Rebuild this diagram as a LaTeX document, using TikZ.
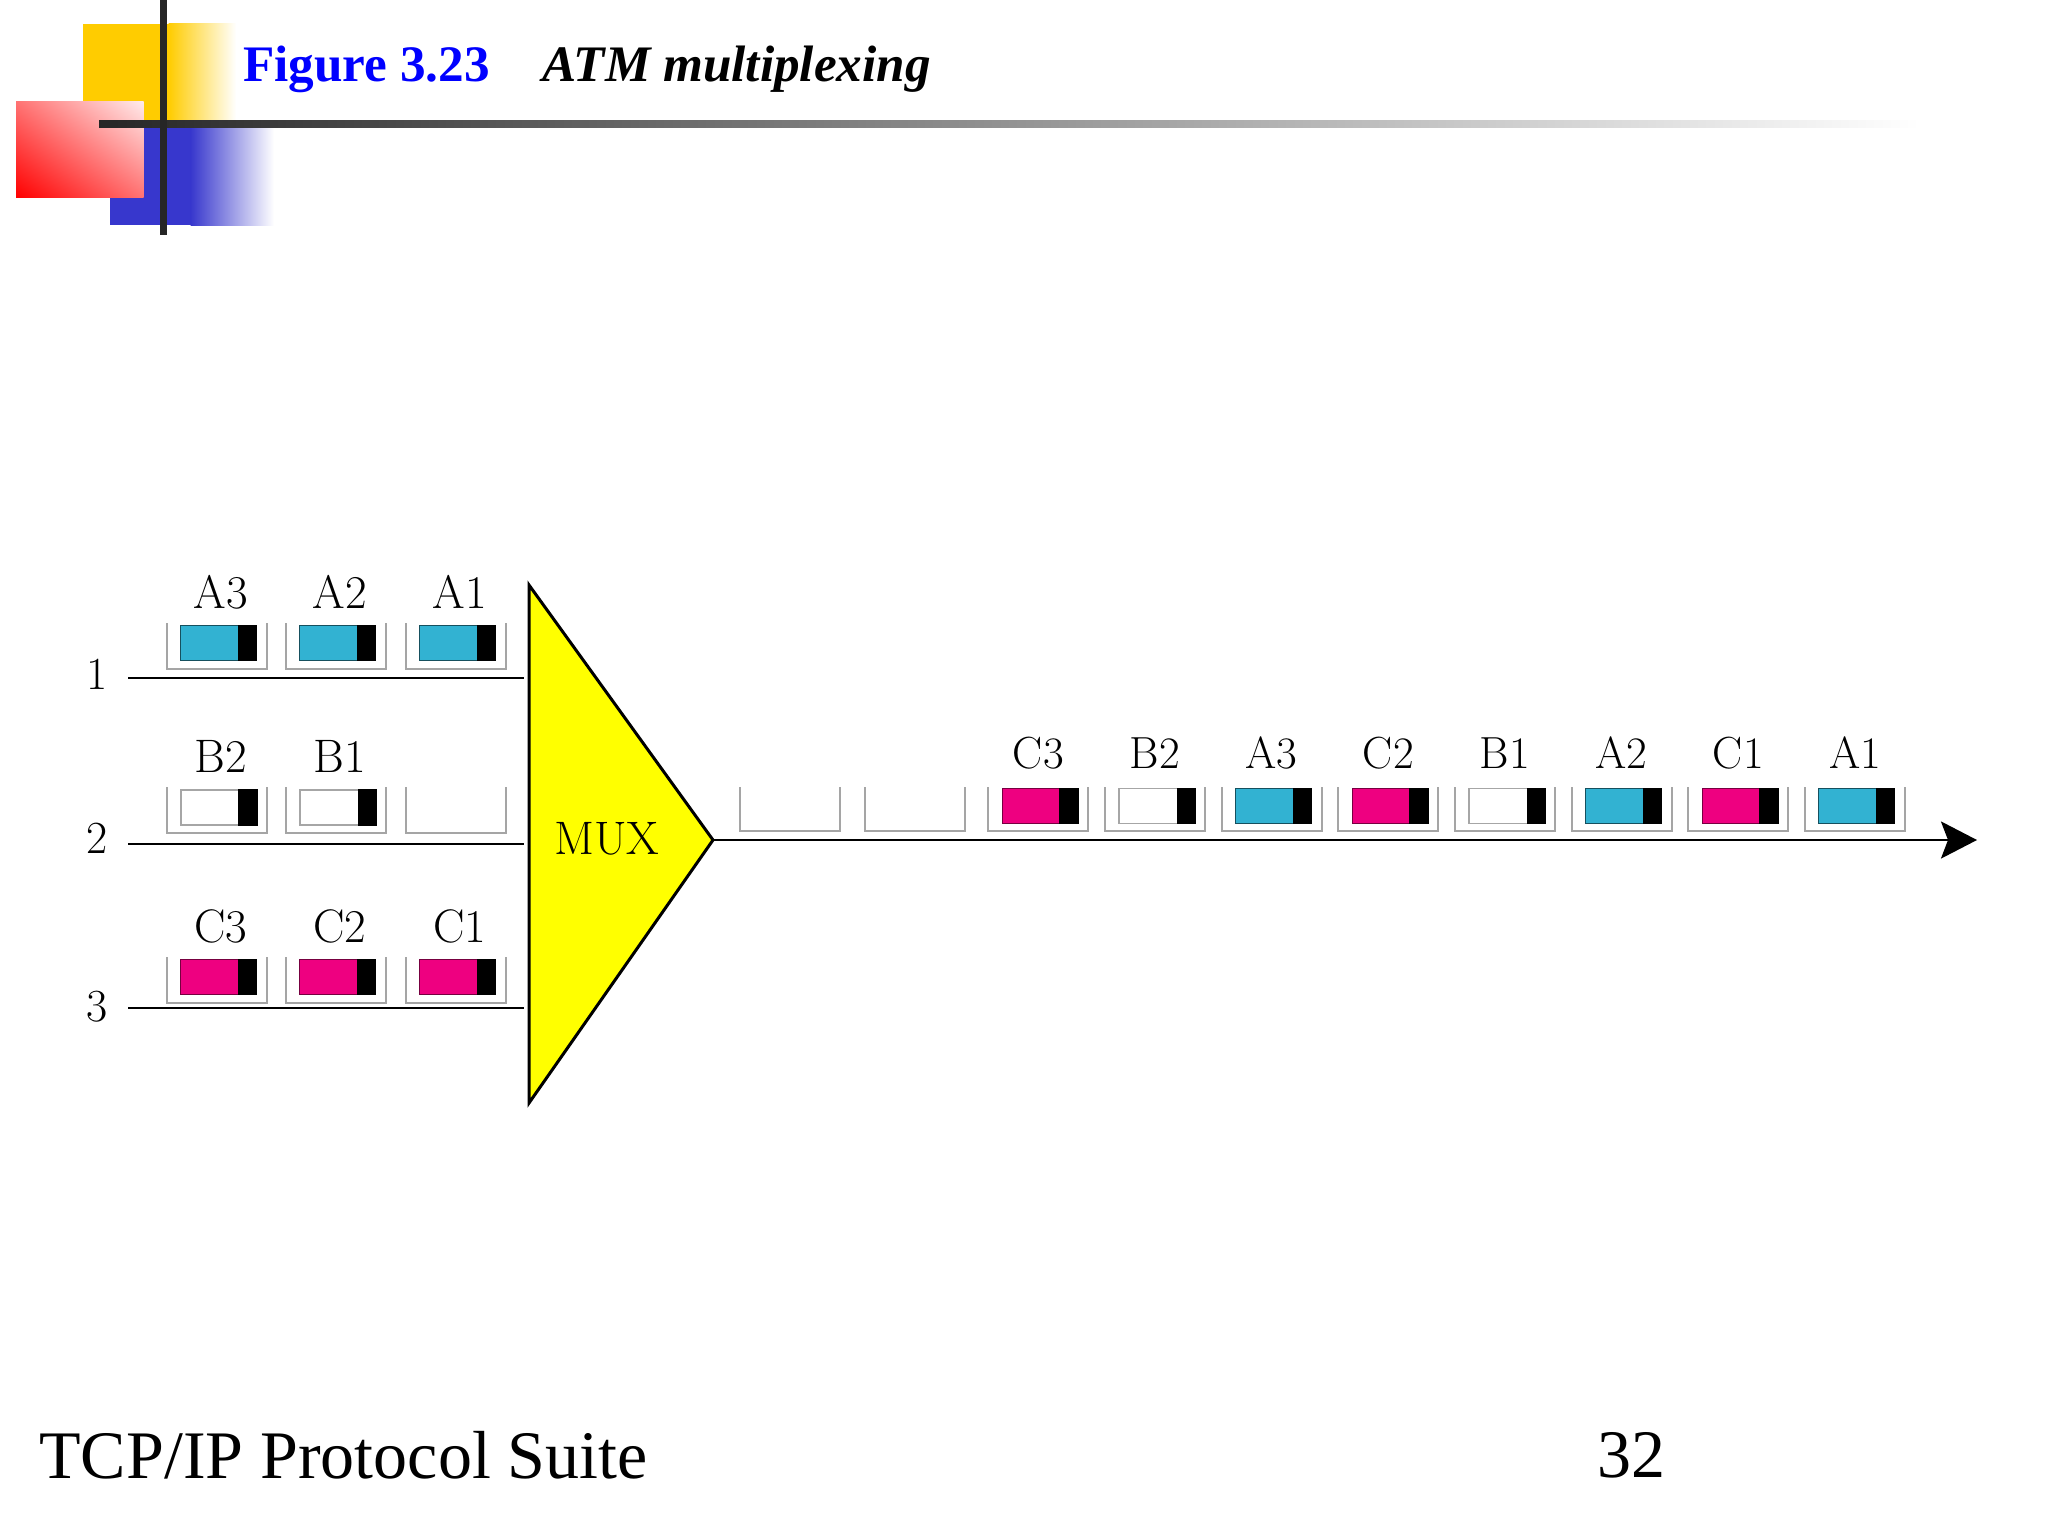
\documentclass[tikz,border=0pt]{standalone}
\usepackage{fontspec}
\newfontfamily\timesfont{Liberation Serif}
\usetikzlibrary{arrows.meta,shadings}
\definecolor{cellcyan}{RGB}{50,178,210}
\definecolor{cellmag}{RGB}{238,0,128}
\definecolor{muxyellow}{RGB}{255,255,0}
\definecolor{decoyellow}{RGB}{255,204,0}
\definecolor{decoblue}{RGB}{55,55,205}
\definecolor{titleblue}{RGB}{0,0,255}
\definecolor{traygray}{RGB}{165,165,165}
\tikzset{
  tray/.style={draw=traygray, line width=1pt, line join=miter},
  cellbody/.style={minimum width=38pt, minimum height=17.5pt, inner sep=0pt, anchor=north west, line width=0.5pt},
  cA/.style={fill=cellcyan, draw=cellcyan!45!black},
  cB/.style={fill=white, draw=black!35, line width=0.9pt},
  cC/.style={fill=cellmag, draw=cellmag!50!black},
  inlab/.style={font=\fontsize{23.5}{23.5}\selectfont, inner sep=0pt},
  outlab/.style={font=\fontsize{22.5}{22.5}\selectfont, inner sep=0pt},
  numlab/.style={font=\fontsize{23}{23}\selectfont, inner sep=0pt},
  wire/.style={line width=1.2pt},
}
\begin{document}
\begin{tikzpicture}[x=0.5pt, y=-0.5pt]
\useasboundingbox (0,0) rectangle (2048,1536);
\fill[white] (0,0) rectangle (2048,1536);

% ---------- header decoration ----------
\fill[decoyellow] (83,24) rectangle (169,124);
\shade[left color=decoyellow, right color=white] (168.5,24) rectangle (236,124);
\fill[decoblue] (110,125) rectangle (191,225);
\shade[left color=decoblue, right color=white] (190.5,125) rectangle (274,225);
\shade[lower left=red, upper right=red!8!white, upper left=red!55!white, lower right=red!55!white] (16,101.7) rectangle (143.5,197.3);
\shade[left color=black!85, middle color=black!50, right color=white] (99,120) rectangle (1920,127);
\fill[black!85] (159.5,0) rectangle (166.5,235);

\node[anchor=base west, inner sep=0pt, text=titleblue, font=\timesfont\bfseries\fontsize{25.6}{25.6}\selectfont] (titlenum) at (243,82) {Figure 3.23};
\node[anchor=base west, inner sep=0pt, font=\timesfont\bfseries\itshape\fontsize{25.6}{25.6}\selectfont] (titletext) at (542,82) {ATM multiplexing};

% ---------- input lines ----------
\coordinate (in1) at (128,678);
\coordinate (in2) at (128,844);
\coordinate (in3) at (128,1008);
\coordinate (mx1) at (524,678);
\coordinate (mx2) at (524,844);
\coordinate (mx3) at (524,1008);
\draw[wire] (in1) -- (mx1);
\draw[wire] (in2) -- (mx2);
\draw[wire] (in3) -- (mx3);

\node[numlab] (n1) at (97.5,674) {1};
\node[numlab] (n2) at (97.5,838) {2};
\node[numlab] (n3) at (97.5,1006.5) {3};

% ---------- input trays ----------
\foreach \x/\t in {166.7/623, 286/623, 405.7/623, 166.7/787, 286/787, 405.7/787, 166.7/957, 286/957, 405.7/957}{
  \draw[tray] (\x,\t) -- (\x,\t+46) -- (\x+100,\t+46) -- (\x+100,\t);
}
\foreach \nm/\x/\t/\st/\lab in {iA3/166.7/623/cA/A3, iA2/286/623/cA/A2, iA1/405.7/623/cA/A1,
                               iB2/166.7/787/cB/B2, iB1/286/787/cB/B1,
                               iC3/166.7/957/cC/C3, iC2/286/957/cC/C2, iC1/405.7/957/cC/C1}{
  \node[cellbody, \st] (\nm) at (\x+13.3,\t+2) {};
  \fill[black] ([xshift=-9.7pt]\nm.north east) rectangle (\nm.south east);
  \node[inlab] (\nm lab) at (\x+54,\t-31) {\lab};
}

% ---------- MUX ----------
\coordinate (muxtop) at (529,585);
\coordinate (muxtip) at (713,840);
\coordinate (muxbot) at (529,1103);
\draw[fill=muxyellow, line width=1.5pt, line join=miter] (muxtop) -- (muxtip) -- (muxbot) -- cycle;
\node[inner sep=0pt, font=\fontsize{23.5}{23.5}\selectfont] (mux) at (607,839) {MUX};

% ---------- output ----------
\coordinate (outend) at (1977,840);
\draw[line width=1.3pt, -{Stealth[length=18pt, width=18.5pt, inset=3.5pt]}] (muxtip) -- (outend);

\foreach \x in {740, 865, 988.3, 1105, 1221.7, 1338.3, 1455, 1571.7, 1688.3, 1805}{
  \draw[tray] (\x,787) -- (\x,831) -- (\x+100,831) -- (\x+100,787);
}
\foreach \nm/\x/\st/\lab in {oC3/988.3/cC/C3, oB2/1105/cB/B2, oA3/1221.7/cA/A3, oC2/1338.3/cC/C2,
                            oB1/1455/cB/B1, oA2/1571.7/cA/A2, oC1/1688.3/cC/C1, oA1/1805/cA/A1}{
  \node[cellbody, \st] (\nm) at (\x+13.3,787.5) {};
  \fill[black] ([xshift=-9.7pt]\nm.north east) rectangle (\nm.south east);
  \node[outlab] (\nm lab) at (\x+50,753) {\lab};
}

% ---------- footer ----------
\node[anchor=base west, inner sep=0pt, font=\timesfont\fontsize{34}{34}\selectfont] (footer) at (39,1478) {TCP/IP Protocol Suite};
\node[anchor=base, inner sep=0pt, font=\timesfont\fontsize{34}{34}\selectfont] (pagenum) at (1631,1477) {32};
\end{tikzpicture}
\end{document}
